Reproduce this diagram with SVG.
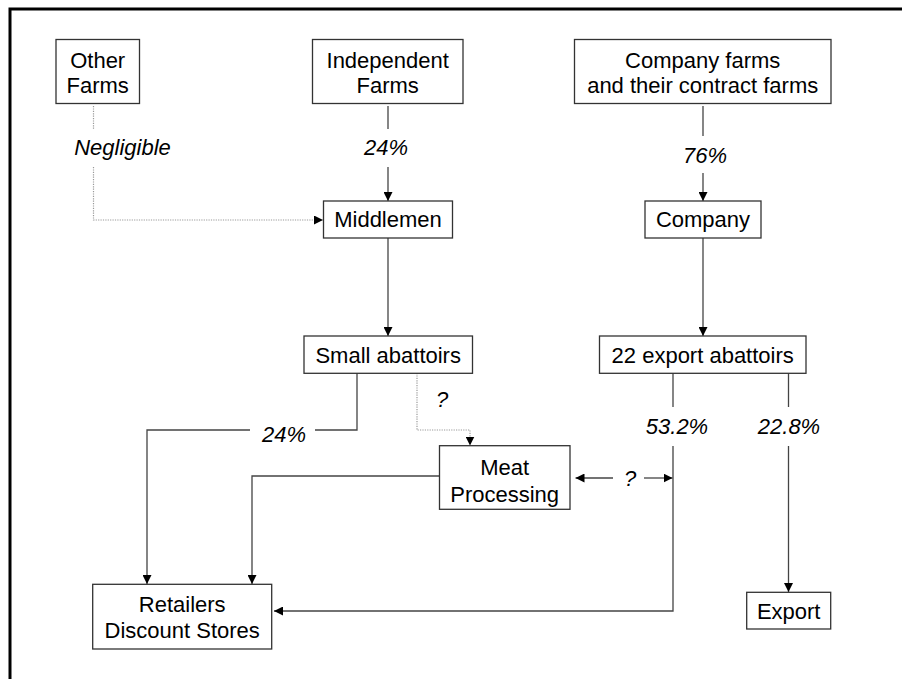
<svg xmlns="http://www.w3.org/2000/svg" width="902" height="679" viewBox="0 0 902 679">
<style>
.box{fill:#fff;stroke:#333;stroke-width:1.3}
.t{font-family:"Liberation Sans",Arial,sans-serif;font-size:22px;fill:#000;text-anchor:middle}
.i{font-style:italic}
.ln{fill:none;stroke:#444;stroke-width:1.3}
.dt{fill:none;stroke:#999;stroke-width:1.2;stroke-dasharray:1.2 1.2}
</style>
<defs>
<marker id="ah" viewBox="0 0 10 10" refX="10" refY="5" markerWidth="9" markerHeight="9" markerUnits="userSpaceOnUse" orient="auto-start-reverse">
<path d="M0,0 L10,5 L0,10 z" fill="#000"/>
</marker>
</defs>
<rect width="902" height="679" fill="#fff"/>
<path d="M10,679 V9 H902" fill="none" stroke="#000" stroke-width="3"/>

<g id="connectors">
<path class="dt" d="M93.5,106 V129"/>
<path class="dt" d="M93.5,167 V220 H323" marker-end="url(#ah)"/>
<path class="ln" d="M388,106 V129"/>
<path class="ln" d="M388,167 V201" marker-end="url(#ah)"/>
<path class="ln" d="M703,106 V136"/>
<path class="ln" d="M703,173 V201" marker-end="url(#ah)"/>
<path class="ln" d="M388,238 V336" marker-end="url(#ah)"/>
<path class="ln" d="M703,238 V336" marker-end="url(#ah)"/>
<path class="ln" d="M357,373 V430 H315"/>
<path class="ln" d="M250,430 H147 V584" marker-end="url(#ah)"/>
<path class="dt" d="M417,373 V430 H470 V445.5" marker-end="url(#ah)"/>
<path class="ln" d="M439.5,476 H252 V584" marker-end="url(#ah)"/>
<path class="ln" d="M673,373 V407"/>
<path class="ln" d="M673,446 V611 H274" marker-end="url(#ah)"/>
<path class="ln" d="M788.5,373 V407"/>
<path class="ln" d="M788.5,446 V592" marker-end="url(#ah)"/>
<path class="ln" d="M613,478 H575.5" marker-end="url(#ah)"/>
<path class="ln" d="M644,478 H672.5" marker-end="url(#ah)"/>
<text class="t i" x="122.5" y="155">Negligible</text>
<text class="t i" x="386" y="155">24%</text>
<text class="t i" x="705" y="163">76%</text>
<text class="t i" x="284" y="442">24%</text>
<text class="t i" x="442" y="407">?</text>
<text class="t i" x="677" y="434">53.2%</text>
<text class="t i" x="789" y="434">22.8%</text>
<text class="t i" x="630" y="486">?</text>
</g>

<g id="other-farms">
<rect class="box" x="56" y="39.5" width="83.5" height="64"/>
<text class="t" x="97.7" y="68">Other</text>
<text class="t" x="97.7" y="93">Farms</text>
</g>
<g id="independent-farms">
<rect class="box" x="312.5" y="39.5" width="150.5" height="64"/>
<text class="t" x="387.7" y="68">Independent</text>
<text class="t" x="387.7" y="93">Farms</text>
</g>
<g id="company-farms">
<rect class="box" x="574.5" y="39.5" width="256.5" height="64"/>
<text class="t" x="702.7" y="68">Company farms</text>
<text class="t" x="702.7" y="93">and their contract farms</text>
</g>
<g id="middlemen">
<rect class="box" x="323.5" y="201" width="129" height="37"/>
<text class="t" x="388" y="227">Middlemen</text>
</g>
<g id="company">
<rect class="box" x="645" y="201" width="116" height="37"/>
<text class="t" x="703" y="227">Company</text>
</g>
<g id="small-abattoirs">
<rect class="box" x="304" y="336" width="168.5" height="37.3"/>
<text class="t" x="388.2" y="363">Small abattoirs</text>
</g>
<g id="export-abattoirs">
<rect class="box" x="599.5" y="336" width="206.5" height="37.3"/>
<text class="t" x="702.7" y="363">22 export abattoirs</text>
</g>
<g id="meat-processing">
<rect class="box" x="439.5" y="445.7" width="130.5" height="63.6"/>
<text class="t" x="504.7" y="475">Meat</text>
<text class="t" x="504.7" y="501.5">Processing</text>
</g>
<g id="retailers">
<rect class="box" x="92.7" y="584.3" width="179" height="64.7"/>
<text class="t" x="182.2" y="611.5">Retailers</text>
<text class="t" x="182.2" y="637.7">Discount Stores</text>
</g>
<g id="export">
<rect class="box" x="746.7" y="592.3" width="84" height="36.7"/>
<text class="t" x="788.7" y="619">Export</text>
</g>
</svg>
